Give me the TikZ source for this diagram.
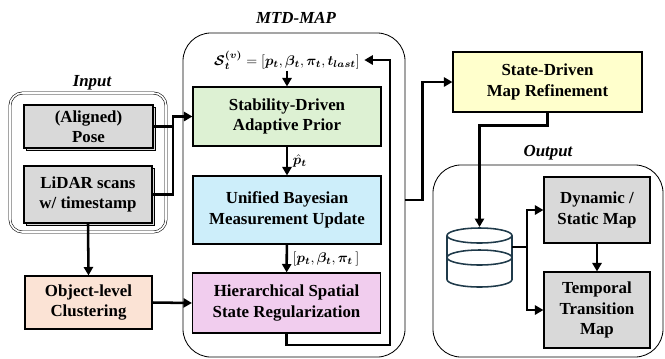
\documentclass[tikz,border=0pt]{standalone}
\usepackage{fontspec}
\setmainfont{Liberation Serif}
\usepackage{amsmath}
\usepackage{bm}
\usetikzlibrary{arrows.meta, shadows}

\definecolor{priorgreen}{HTML}{DDF1D3}
\definecolor{updateblue}{HTML}{CDEEFA}
\definecolor{regpink}{HTML}{F1CDEE}
\definecolor{clusterpeach}{HTML}{FBE3D5}
\definecolor{refineyellow}{HTML}{FFFFCC}
\definecolor{boxgray}{HTML}{D9D9D9}
\definecolor{dbblue}{HTML}{1F3A4A}

\begin{document}
\begin{tikzpicture}[x=0.025cm, y=-0.025cm,
    blk/.style={draw, line width=0.8pt, align=center, inner sep=2pt,
                font=\fontsize{12}{14.5}\selectfont\bfseries},
    src/.style={blk, fill=boxgray, copy shadow={shadow xshift=1.5pt, shadow yshift=-1.5pt}},
    frame/.style={draw, line width=0.6pt, rounded corners=20pt},
    flow/.style={line width=1.8pt, -{Triangle[length=6pt, width=6.5pt]}},
    wire/.style={line width=1.8pt},
    ttl/.style={font=\fontsize{12}{14}\selectfont\bfseries\itshape}]

    \useasboundingbox (0,0) rectangle (665,358);

    % containers
    \node[frame, minimum width=5.55cm, minimum height=8.1cm] (mtd) at (294,195) {};
    \node[draw, line width=0.4pt, double, double distance=1.2pt, rounded corners=9pt,
          minimum width=3.9cm, minimum height=3.475cm] (input) at (88,162.5) {};
    \node[frame, minimum width=5.75cm, minimum height=4.8cm] (output) at (548,261) {};

    \node[ttl] (mtdtitle) at (296,18) {MTD-MAP};
    \node[ttl] (inputtitle) at (92,83) {Input};
    \node[ttl] (outputtitle) at (548,153) {Output};

    % input side
    \node[src, minimum width=3.225cm, minimum height=1.075cm] (pose) at (88.5,126.5) {(Aligned)\\Pose};
    \node[src, minimum width=3.2cm, minimum height=1.425cm] (lidar) at (88,194.5) {LiDAR scans\\w/ timestamp};
    \node[blk, fill=clusterpeach, minimum width=3.175cm, minimum height=1.325cm] (cluster) at (88.5,302.5) {Object-level\\Clustering};

    % MTD-MAP core
    \node[inner sep=1pt] (state) at (287,60) {$\bm{\mathcal{S}_t^{(v)}} = [\bm{p_t}, \bm{\beta_t}, \bm{\pi_t}, \bm{t_{last}}]$};
    \node[blk, fill=priorgreen, minimum width=4.7cm, minimum height=1.475cm] (prior) at (287,116.5) {Stability-Driven\\Adaptive Prior};
    \node[blk, fill=updateblue, minimum width=4.7cm, minimum height=1.7cm] (update) at (287,210) {Unified Bayesian\\Measurement Update};
    \node[blk, fill=regpink, minimum width=4.7cm, minimum height=1.5cm] (reg) at (286.5,303) {Hierarchical Spatial\\State Regularization};

    % refinement and output
    \node[blk, fill=refineyellow, minimum width=4.725cm, minimum height=1.5cm] (refine) at (547.5,82) {State-Driven\\Map Refinement};
    \node[blk, fill=boxgray, minimum width=2.65cm, minimum height=1.65cm] (dynamic) at (597,210) {Dynamic /\\Static Map};
    \node[blk, fill=boxgray, minimum width=2.65cm, minimum height=1.9cm] (temporal) at (597,310) {Temporal\\Transition\\Map};

    % map database
    \draw[dbblue, line width=1.1pt] (447,235.5) -- (447,279.5)
        arc[start angle=180, end angle=360, x radius=0.8125cm, y radius=0.1875cm] -- (512,235.5);
    \draw[dbblue, line width=1.1pt] (479.5,235.5) ellipse [x radius=0.8125cm, y radius=0.1875cm];
    \draw[dbblue, line width=1.1pt] (447,257.5) arc[start angle=180, end angle=-180, x radius=0.8125cm, y radius=0.1875cm];
    \coordinate (dbtop) at (479.5,227);
    \coordinate (dbright) at (512,247);

    % connectors
    \coordinate (inj) at (173,116.5);
    \draw[wire] (pose.east) -- (pose.east -| inj);
    \draw[flow] (lidar.east) -| (inj) -- (prior.west);
    \draw[flow] (lidar.south) -- (cluster.north);
    \draw[flow] (cluster.east) -- (reg.west);

    \draw[flow] (state) -- (prior);
    \draw[flow] (prior) -- node[right] {$\bm{\hat{p}_t}$} (update);
    \draw[flow] (update) -- node[right] {$[\bm{p_t}, \bm{\beta_t}, \bm{\pi_t}\,]$} (reg);
    \coordinate (loop) at (390,345);
    \draw[flow] (reg.south) |- (loop) |- ([xshift=2pt]state.east);

    \draw[flow] ([yshift=-3.5pt]mtd.east) -- ++(17,0) |- (refine.west);
    \draw[flow] (refine.south) -- ++(0,13) -| (dbtop);

    \coordinate (split) at (527,247);
    \draw[wire] (dbright) -- (split);
    \draw[flow] (split) |- (dynamic.west);
    \draw[flow] (split) |- (temporal.west);
    \draw[flow] (dynamic) -- (temporal);

\end{tikzpicture}
\end{document}
